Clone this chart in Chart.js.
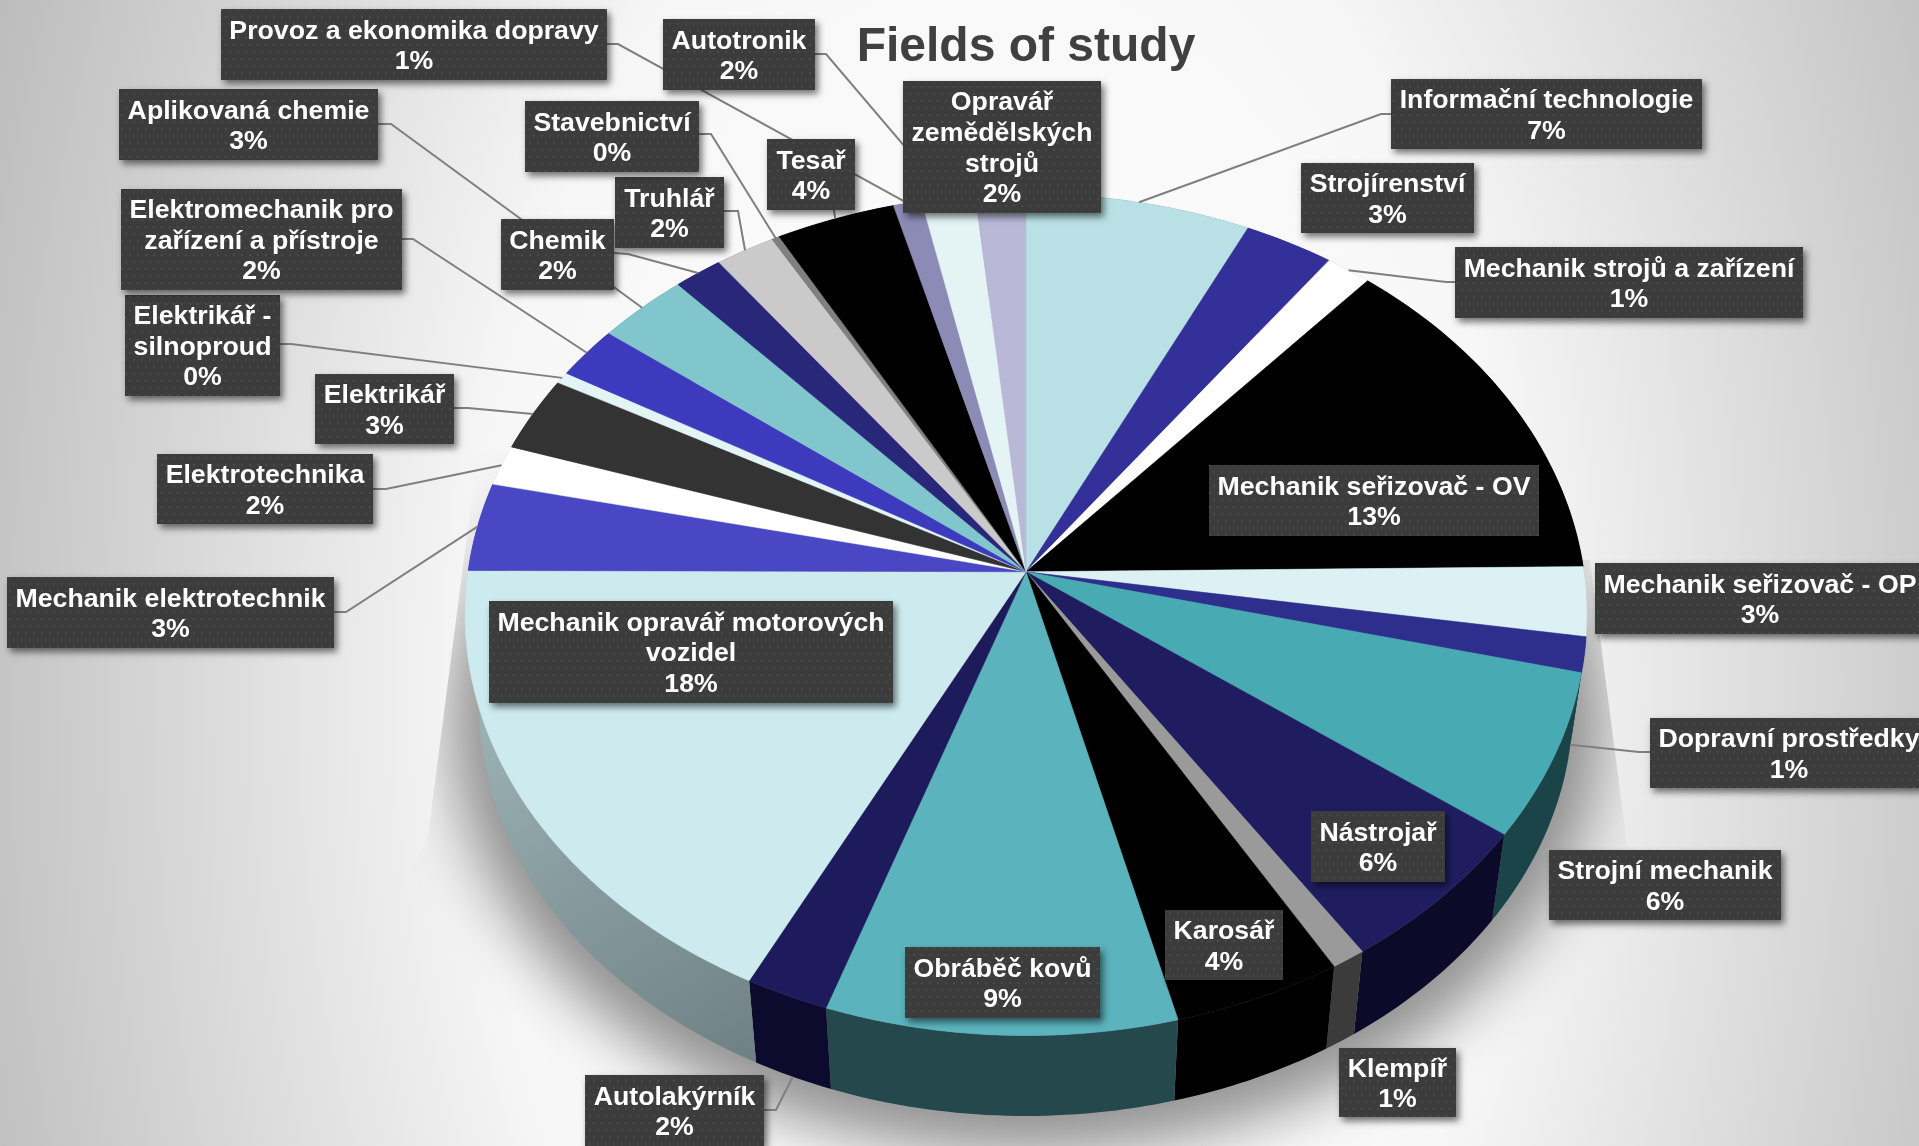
<!DOCTYPE html>
<html>
<head>
<meta charset="utf-8">
<title>Fields of study</title>
<script src="https://cdn.jsdelivr.net/npm/chart.js@4"></script>
<style>
   html, body { margin: 0; padding: 0; width: 1919px; height: 1146px; overflow: hidden; }
   body { background: radial-gradient(ellipse 1150px 1900px at 52% 60%, #ffffff 0%, #f7f7f7 45%, #b5b5b5 100%); }
   canvas { display: block; }
</style>
</head>
<body>
<canvas id="fieldsChart" width="1919" height="1146"></canvas>
<script>
// Chart data
// ----------------------------------------------
const categories = [
   "Informační technologie", "Strojírenství", "Mechanik strojů a zařízení", "Mechanik seřizovač - OV",
   "Mechanik seřizovač - OP", "Dopravní prostředky", "Strojní mechanik", "Nástrojař", "Klempíř", "Karosář",
   "Obráběč kovů", "Autolakýrník", "Mechanik opravář motorových vozidel", "Mechanik elektrotechnik",
   "Elektrotechnika", "Elektrikář", "Elektrikář - silnoproud", "Elektromechanik pro zařízení a přístroje",
   "Aplikovaná chemie", "Chemik", "Truhlář", "Stavebnictví", "Tesař", "Provoz a ekonomika dopravy",
   "Autotronik", "Opravář zemědělských strojů"
];
const shares = [
   7.15, 2.85, 1.45, 13.35,
   2.65, 1.35, 6.3, 5.6, 0.9, 4.45,
   9.2, 2.2, 17.6, 3.4,
   1.55, 2.9, 0.45, 2.05,
   2.9, 1.55, 1.9, 0.25, 3.8, 0.9,
   1.7, 1.6
];
const sliceColors = [
   "#B9E1E5", "#33309A", "#FFFFFF", "#000000",
   "#DDF0F3", "#2E2E8C", "#48AAB3", "#1F1D60", "#9A9A9A", "#000000",
   "#5BB3BD", "#1D1B5B", "#CDEBEF", "#4A47C4",
   "#FFFFFF", "#333333", "#E3F4F6", "#3D3ABD",
   "#82C6CD", "#29277A", "#CACACA", "#808080", "#000000", "#8C8BB5",
   "#E4F4F5", "#B9B8D6"
];
const sideColors = [
   "#5C7073", "#19184D", "#808080", "#000000",
   "#6E787A", "#171746", "#1B4448", "#0B0A28", "#3B3B3B", "#000000",
   "#24484C", "#0C0B2E", ["#6E8083", "#A9C0C3"], "#252462",
   "#808080", "#1A1A1A", "#71797B", "#1F1D5E",
   "#416366", "#15143D", "#656565", "#404040", "#000000", "#46465A",
   "#727A7A", "#5C5C6B"
];

// Label layout: box [x, y, w, h] and leader start + elbow [x1, y1, x2, y2], same order as categories
// ----------------------------------------------
const labelBoxes = [
   [1391, 79, 311, 70], [1301, 163, 173, 70], [1455, 247, 348, 71], [1209, 465, 330, 71],
   [1595, 563, 330, 71], [1650, 718, 278, 70], [1549, 850, 232, 70], [1311, 811, 134, 71], [1339, 1048, 117, 69], [1165, 910, 118, 70],
   [905, 947, 195, 71], [585, 1075, 179, 71], [489, 601, 404, 102], [7, 577, 327, 71],
   [157, 454, 216, 70], [315, 374, 139, 70], [125, 295, 155, 101], [121, 189, 281, 101],
   [119, 89, 259, 71], [501, 219, 113, 71], [615, 177, 109, 71], [525, 101, 174, 71], [767, 139, 88, 71], [221, 9, 386, 71],
   [663, 19, 152, 71], [903, 81, 198, 132]
];
const leaderElbows = [
   [1391, 114, 1381, 114], null, [1455, 282, 1446, 282], null,
   null, [1650, 752, 1639, 752], null, null, null, null,
   null, [764, 1110, 776, 1110], null, [334, 612, 346, 612],
   [373, 489, 386, 489], [454, 408, 468, 408], [280, 344, 291, 344], [402, 239, 413, 239],
   [378, 124, 391, 124], [614, 253, 628, 254], [724, 211, 738, 211], [699, 134, 711, 134], [834, 210, 834, 211], [607, 44, 618, 44],
   [815, 54, 826, 54], null
];
// the shadow is cut off along these edges on both sides of the pie
const shadowClip = [[478, 450], [1590, 560], [1627, 844], [1850, 1146], [150, 1146], [427, 844]];

// Pie projection settings
// ----------------------------------------------
const pieRadius   = 558;
const tilt        = 0.7466;
const perspective = -0.1017;
const depthDrop   = 92;
const depthScale  = 0.975;

const labelFont = "bold 26.7px 'Liberation Sans'";
const lineHeight = 30.6;

let rimPoint = ( arc, angle, lower ) => {
   const u = Math.cos( angle ), v = Math.sin( angle ), w = 1 + perspective * v;
   const dx = pieRadius * u / w, dy = pieRadius * tilt * v / w;
   return lower ? [arc.x + dx * depthScale, arc.y + depthDrop + dy * depthScale] : [arc.x + dx, arc.y + dy];
};

let tracePath = ( ctx, arc, from, to, lower, first ) => {
   const steps = Math.max( 2, Math.ceil( Math.abs( to - from ) * 60 ) );
   for (let s = 0; s <= steps; s++) {
      const p = rimPoint( arc, from + (to - from) * s / steps, lower );
      if (first && s == 0) ctx.moveTo( p[0], p[1] ); else ctx.lineTo( p[0], p[1] );
   }
};

// Dotted fill of the label boxes
let makeDots = ( ctx ) => {
   const tile = document.createElement( "canvas" );
   tile.width = 8; tile.height = 14;
   const t = tile.getContext( "2d" );
   t.fillStyle = "#3C3C3C"; t.fillRect( 0, 0, 8, 14 );
   t.fillStyle = "#4A4A4A";
   t.fillRect( 1, 2, 2, 2 );
   t.fillRect( 5, 9, 2, 2 );
   return ctx.createPattern( tile, "repeat" );
};

let wrapText = ( ctx, text, width ) => {
   const lines = [];
   let line = "";
   text.split( " " ).forEach( word => {
      const next = line ? line + " " + word : word;
      if (line && ctx.measureText( next ).width > width) { lines.push( line ); line = word; }
      else line = next;
   });
   lines.push( line );
   return lines;
};

const pie3d = {
   id: "pie3d",
   beforeDatasetsDraw( chart ) {
      const ctx = chart.ctx, arcs = chart.getDatasetMeta( 0 ).data;
      const centre = arcs[0];

      // soft shadow under the pie
      ctx.save();
      ctx.beginPath();
      shadowClip.forEach( ( p, i ) => i ? ctx.lineTo( p[0], p[1] ) : ctx.moveTo( p[0], p[1] ) );
      ctx.closePath();
      ctx.clip();
      ctx.filter = "blur(30px)";
      ctx.fillStyle = "rgba(0,0,0,.42)";
      ctx.translate( centre.x, centre.y + 10 );
      ctx.scale( 1.05, 1.05 );
      ctx.translate( -centre.x, -centre.y );
      ctx.beginPath();
      tracePath( ctx, centre, -Math.PI / 2, Math.PI * 1.5, true, true );
      ctx.fill();
      ctx.restore();

      // sides first, the top face covers the back part
      arcs.forEach( ( arc, i ) => {
         const color = sideColors[i];
         if (Array.isArray( color )) {
            const a = rimPoint( arc, arc.startAngle, true ), b = rimPoint( arc, arc.endAngle, false );
            const grad = ctx.createLinearGradient( a[0], a[1], b[0], b[1] );
            grad.addColorStop( 0, color[0] ); grad.addColorStop( 1, color[1] );
            ctx.fillStyle = ctx.strokeStyle = grad;
         } else {
            ctx.fillStyle = ctx.strokeStyle = color;
         }
         ctx.beginPath();
         tracePath( ctx, arc, arc.startAngle, arc.endAngle, false, true );
         tracePath( ctx, arc, arc.endAngle, arc.startAngle, true, false );
         ctx.closePath();
         ctx.fill();
      });

      // top face
      arcs.forEach( ( arc, i ) => {
         ctx.fillStyle = ctx.strokeStyle = sliceColors[i];
         ctx.lineWidth = 0.5;
         ctx.beginPath();
         ctx.moveTo( arc.x, arc.y );
         tracePath( ctx, arc, arc.startAngle, arc.endAngle, false, false );
         ctx.closePath();
         ctx.fill();
         ctx.stroke();
      });
      return false;
   },
   afterDraw( chart ) {
      const ctx = chart.ctx, arcs = chart.getDatasetMeta( 0 ).data;
      const total = shares.reduce( ( a, b ) => a + b, 0 );

      // Leader lines end on the rim at the middle of the slice
      ctx.strokeStyle = "#7F7F7F";
      ctx.lineWidth = 2;
      arcs.forEach( ( arc, i ) => {
         const elbow = leaderElbows[i];
         if (!elbow) return;
         const mid = (arc.startAngle + arc.endAngle) / 2;
         const end = rimPoint( arc, mid, Math.sin( mid ) > 0 );
         ctx.beginPath();
         ctx.moveTo( elbow[0], elbow[1] );
         ctx.lineTo( elbow[2], elbow[3] );
         ctx.lineTo( end[0], end[1] );
         ctx.stroke();
      });

      // Label boxes
      const dots = makeDots( ctx );
      ctx.font = labelFont;
      ctx.textAlign = "center";
      ctx.textBaseline = "middle";
      categories.forEach( ( name, i ) => {
         const [x, y, w, h] = labelBoxes[i];
         ctx.save();
         ctx.shadowColor = "rgba(0,0,0,.55)";
         ctx.shadowBlur = 7;
         ctx.shadowOffsetX = 3;
         ctx.shadowOffsetY = 4;
         ctx.fillStyle = dots;
         ctx.fillRect( x, y, w, h );
         ctx.restore();

         const lines = wrapText( ctx, name, w - 8 );
         lines.push( Math.round( shares[i] / total * 100 ) + "%" );
         ctx.fillStyle = "#FFFFFF";
         const top = y + h / 2 + 2 - (lines.length - 1) * lineHeight / 2;
         lines.forEach( ( line, n ) => ctx.fillText( line, x + w / 2, top + n * lineHeight ) );
      });
   }
};

// Fields of study pie
// ----------------------------------------------
document.addEventListener( "DOMContentLoaded", () => {
   new Chart( document.getElementById( "fieldsChart" ), {
      type: "pie",
      data: {
         labels: categories,
         datasets: [{
            data: shares,
            backgroundColor: sliceColors,
            borderWidth: 0,
            radius: pieRadius
         }]
      },
      options: {
         responsive: false,
         animation: false,
         layout: { padding: { left: 133, bottom: 79 } },
         plugins: {
            legend: { display: false },
            tooltip: { enabled: false },
            title: {
               display: true,
               fullSize: false,
               text: "Fields of study",
               color: "#404040",
               font: { family: "'Liberation Sans'", size: 48, weight: "bold", lineHeight: 1.2 },
               padding: { top: 19, bottom: 0 }
            }
         }
      },
      plugins: [pie3d]
   });
});
</script>
</body>
</html>
